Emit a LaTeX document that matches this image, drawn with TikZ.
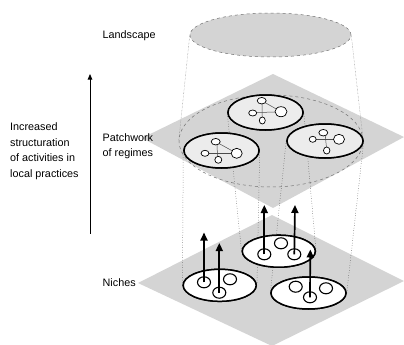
\documentclass[tikz,border=0pt]{standalone}
\usepackage{fontspec}
\setmainfont{Liberation Sans}
\usetikzlibrary{shapes.geometric,arrows.meta}
\definecolor{plane}{RGB}{212,212,212}
\definecolor{regfill}{RGB}{236,236,236}
\tikzset{
  planefill/.style={fill=plane, draw=none},
  regime/.style={ellipse, draw=black, line width=1.5pt, fill=regfill, inner sep=0pt, minimum width=75pt, minimum height=35pt},
  niche/.style={ellipse, draw=black, line width=1.5pt, fill=white, inner sep=0pt, minimum width=73pt, minimum height=32pt},
  ncirc/.style={ellipse, draw=black, line width=1.1pt, fill=none, inner sep=0pt, minimum width=13pt, minimum height=11pt},
  rnode/.style={ellipse, draw=black, line width=0.7pt, fill=white, inner sep=0pt},
  rlink/.style={draw=black!70, line width=0.5pt},
  proj/.style={draw=black!75, line width=0.5pt, dotted},
  lproj/.style={draw=black!55, line width=0.4pt, densely dotted},
  uparrow/.style={draw=black, line width=1.7pt, -{Triangle[length=8pt,width=7pt]}},
  lbl/.style={font=\fontsize{10.8}{15.5}\selectfont, align=left, inner sep=0pt, anchor=west}
}
\begin{document}
\begin{tikzpicture}[x=1pt,y=-1pt]
\useasboundingbox (0,0) rectangle (404,345);
% landscape
\node[ellipse, fill=plane, draw=black!55, line width=0.5pt, dashed, inner sep=0pt, minimum width=161pt, minimum height=44pt] (L) at (270.5,35) {};
% planes
\path[planefill] (273,74) -- (404,137) -- (273,208) -- (142,138) -- cycle;
\node[ellipse, draw=black!55, line width=0.5pt, dashed, inner sep=0pt, minimum width=184pt, minimum height=92pt] (D) at (271,141) {};
\path[planefill] (272,215) -- (404,281) -- (272,346) -- (138,283) -- cycle;
% landscape projection lines
\draw[lproj] (L.west) -- (D.west);
\draw[lproj] (L.east) -- (D.east);
% regimes
\node[regime] (R1) at (265.5,112.5) {};
\node[regime] (R2) at (221.5,150.5) {};
\node[regime, minimum width=76pt, minimum height=34pt] (R3) at (325,141) {};
% niches
\node[niche] (N1) at (219.7,285.3) {};
\node[niche] (N2) at (278.8,251.2) {};
\node[niche, minimum width=75pt] (N3) at (308.5,293) {};
% projection lines
\draw[proj] (N1.west) -- (R2.west);
\draw[proj] (N1.east) -- (R2.east);
\draw[proj] (N2.west) -- (R1.west);
\draw[proj] (N2.east) -- (R1.east);
\draw[proj] (N3.west) -- (R3.west);
\draw[proj] (N3.east) -- (R3.east);
% redraw ellipses on top of projection lines
\node[regime] at (R1) {};
\node[regime] at (R2) {};
\node[regime, minimum width=76pt, minimum height=34pt] at (R3) {};
\node[niche] at (N1) {};
\node[niche] at (N2) {};
\node[niche, minimum width=75pt] at (N3) {};
% regime networks
\draw[rlink] (261.7,100.7) -- (281,111.7);
\draw[rlink] (262,100.7) -- (262.3,120);
\draw[rlink] (252.7,112.5) -- (281,112);
\node[rnode, minimum width=9pt, minimum height=6.5pt] (a1) at (261.7,100.7) {};
\node[rnode, minimum width=12pt, minimum height=10pt] (a2) at (281,111.7) {};
\node[rnode, minimum width=8pt, minimum height=6pt] (a3) at (252.7,113) {};
\node[rnode, minimum width=6pt, minimum height=7pt] (a4) at (262.3,120.5) {};
\draw[rlink] (215.7,141.7) -- (236.7,153.3);
\draw[rlink] (217,141.7) -- (217.5,159.3);
\draw[rlink] (205,153.3) -- (236.7,153.3);
\node[rnode, minimum width=9pt, minimum height=6.5pt] (b1) at (215.7,141.7) {};
\node[rnode, minimum width=11pt, minimum height=10pt] (b2) at (236.7,153.3) {};
\node[rnode, minimum width=8pt, minimum height=6pt] (b3) at (205,153.3) {};
\node[rnode, minimum width=7pt, minimum height=7pt] (b4) at (218.3,159.8) {};
\draw[rlink] (325,132.7) -- (326.7,150);
\draw[rlink] (312.7,139.3) -- (339,139.3);
\node[rnode, minimum width=9pt, minimum height=6.5pt] (c1) at (323.3,132.7) {};
\node[rnode, minimum width=11pt, minimum height=10pt] (c2) at (339,139.3) {};
\node[rnode, minimum width=7pt, minimum height=6pt] (c3) at (312.7,139.3) {};
\node[rnode, minimum width=6.5pt, minimum height=7pt] (c4) at (326.7,150.5) {};
% niche circles
\node[ncirc] (p1) at (204,282.3) {};
\node[ncirc] (p2) at (219.3,292.7) {};
\node[ncirc] (p3) at (230,279.3) {};
\node[ncirc] (q1) at (264.3,254.3) {};
\node[ncirc] (q2) at (281,243.3) {};
\node[ncirc] (q3) at (294.3,254.3) {};
\node[ncirc] (s1) at (295.7,286.7) {};
\node[ncirc] (s2) at (310,297.3) {};
\node[ncirc] (s3) at (326,288.3) {};
% arrow end points
\coordinate (t1) at (204,232.5);
\coordinate (t2) at (219.3,243);
\coordinate (t3) at (264.3,205);
\coordinate (t4) at (295,205);
\coordinate (t5) at (310.3,249.5);
\draw[uparrow] (p1.center) -- (t1);
\draw[uparrow] (p2.center) -- (t2);
\draw[uparrow] (q1.center) -- (t3);
\draw[uparrow] (q3.center) -- (t4);
\draw[uparrow] (s2.center) -- (t5);
% left axis arrow
\coordinate (ab) at (90,233.5);
\coordinate (at) at (90,74);
\draw[line width=0.8pt, -{Triangle[length=5.5pt,width=4.5pt]}] (ab) -- (at);
% labels
\node[lbl] (tL) at (102.5,35.7) {Landscape};
\node[lbl] (tP) at (102.5,146) {Patchwork\\of regimes};
\node[lbl] (tN) at (102.5,282.7) {Niches};
\node[lbl] (tI) at (10,151.2) {Increased\\structuration\\of activities in\\local practices};
\end{tikzpicture}
\end{document}
